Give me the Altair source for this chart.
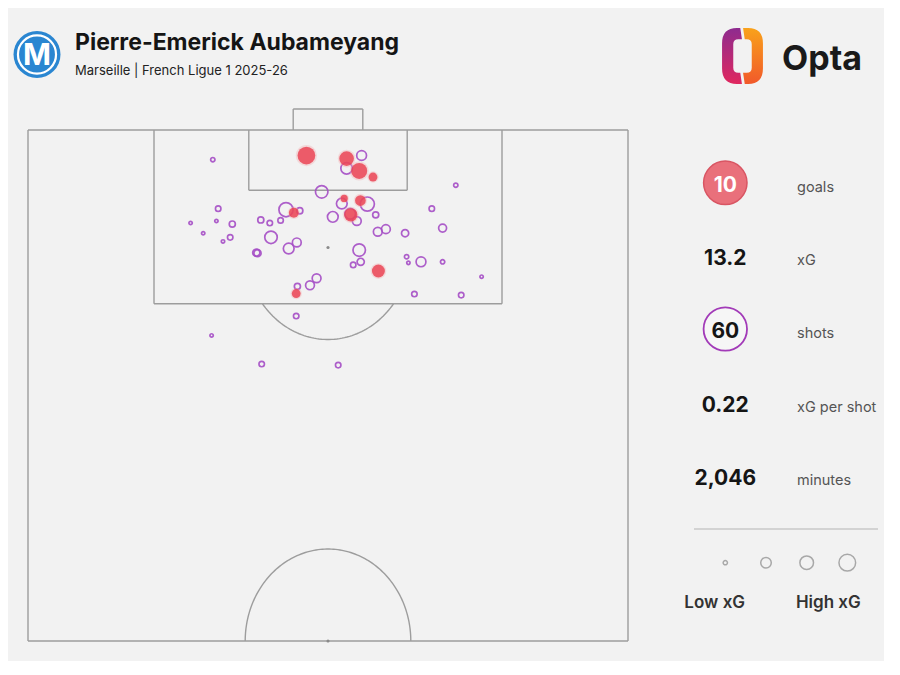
import altair as alt
import pandas as pd
import numpy as np

# ---------------- data ----------------
player = "Pierre-Emerick Aubameyang"
subtitle = "Marseille | French Ligue 1 2025-26"
stat_values = ["10", "13.2", "60", "0.22", "2,046"]
stat_labels = ["goals", "xG", "shots", "xG per shot", "minutes"]
legend_xg = [0.05, 0.3, 0.5, 0.75]
legend_labels = ["Low xG", "High xG"]

# goals (Opta-style pitch coords: x = length toward goal 50..100, y = width 0..100 as drawn left->right)
goal_y = [46.4, 53.1, 55.2, 57.5, 52.7, 55.4, 53.8, 44.3, 58.4, 44.7]
goal_x = [97.5, 97.2, 96.0, 95.4, 93.3, 93.1, 91.7, 91.9, 86.2, 84.0]
goal_xg = [0.85, 0.58, 0.69, 0.21, 0.14, 0.31, 0.48, 0.26, 0.45, 0.21]

# other shots
miss_y = [30.8, 55.6, 53.1, 48.95, 71.3, 31.7, 43.0, 45.3, 52.3, 56.55,
          50.8, 54.8, 57.95, 67.3, 27.1, 31.4, 34.05, 38.8, 40.3, 42.1,
          29.2, 32.5, 33.7, 40.5, 44.8, 43.45, 38.05, 38.25, 55.2, 55.45,
          54.2, 58.3, 59.65, 62.85, 69.1, 63.1, 63.4, 65.5, 69.1, 75.6,
          48.1, 47.0, 44.9, 64.4, 72.2, 44.7, 30.6, 38.95, 51.7, 53.7]
miss_x = [97.1, 97.5, 96.25, 93.95, 94.6, 92.3, 92.2, 92.1, 92.8, 92.75,
          91.5, 91.1, 91.7, 92.3, 90.9, 91.1, 90.8, 91.2, 90.9, 91.15,
          89.9, 89.1, 89.5, 89.5, 89.0, 88.4, 88.0, 87.95, 88.25, 87.1,
          86.8, 90.05, 90.3, 89.9, 90.4, 87.6, 87.0, 87.1, 87.1, 85.65,
          85.5, 84.8, 84.7, 83.95, 83.85, 81.8, 79.9, 77.1, 77.0, 91.8]
miss_xg = [0.05, 0.26, 0.36, 0.42, 0.05, 0.08, 0.54, 0.10, 0.31, 0.54,
           0.31, 0.21, 0.10, 0.08, 0.03, 0.03, 0.10, 0.10, 0.08, 0.08,
           0.03, 0.03, 0.08, 0.42, 0.21, 0.31, 0.14, 0.14, 0.42, 0.14,
           0.08, 0.21, 0.21, 0.14, 0.17, 0.05, 0.03, 0.26, 0.05, 0.03,
           0.21, 0.21, 0.10, 0.08, 0.08, 0.08, 0.03, 0.08, 0.08, 0.31]

# pitch markings (Opta units)
pitch_segments = [
    # outer half pitch
    (0, 50, 0, 100), (100, 50, 100, 100), (0, 100, 100, 100), (0, 50, 100, 50),
    # penalty box
    (21.0, 83.0, 79.0, 83.0), (21.0, 83.0, 21.0, 100), (79.0, 83.0, 79.0, 100),
    # six-yard box
    (36.8, 94.1, 63.2, 94.1), (36.8, 94.1, 36.8, 100), (63.2, 94.1, 63.2, 100),
    # goal
    (44.2, 102.05, 55.8, 102.05), (44.2, 100, 44.2, 102.05), (55.8, 100, 55.8, 102.05),
]
circle_rx, circle_ry = 13.8, 9.0
pen_spot = (50, 88.5)
centre_spot = (50, 50)

# ---------------- style ----------------
BG = "#f2f2f2"
LINE = "#9d9d9d"
FONT = "Inter"
GOAL_RED = "#ea3f50"
SHOT_PURPLE = "#a64fc6"

xs = alt.Scale(domain=[0, 100], nice=False, zero=False)
ys = alt.Scale(domain=[50, 100], nice=False, zero=False)
ss = alt.Scale(type="linear", domain=[0, 1], range=[0, 371])

layers = []

# pitch lines
seg_df = pd.DataFrame(pitch_segments, columns=["ya", "xa", "yb", "xb"])
layers.append(alt.Chart(seg_df).mark_rule(color=LINE, strokeWidth=1.4).encode(
    x=alt.X("ya:Q", scale=xs, axis=None), x2="yb:Q",
    y=alt.Y("xa:Q", scale=ys, axis=None), y2="xb:Q"))

# arcs (D and centre circle)
t0 = np.arccos((pen_spot[1] - 83.0) / circle_ry)
td = np.linspace(-t0, t0, 60)
tc = np.linspace(-np.pi / 2, np.pi / 2, 120)
arc_df = pd.concat([
    pd.DataFrame({"arc": "d", "i": np.arange(len(td)),
                  "y": pen_spot[0] + circle_rx * np.sin(td),
                  "x": pen_spot[1] - circle_ry * np.cos(td)}),
    pd.DataFrame({"arc": "c", "i": np.arange(len(tc)),
                  "y": centre_spot[0] + circle_rx * np.sin(tc),
                  "x": centre_spot[1] + circle_ry * np.cos(tc)}),
])
layers.append(alt.Chart(arc_df).mark_line(color=LINE, strokeWidth=1.4).encode(
    x=alt.X("y:Q", scale=xs, axis=None), y=alt.Y("x:Q", scale=ys, axis=None),
    detail="arc:N", order="i:Q"))

spots_df = pd.DataFrame({"y": [pen_spot[0], centre_spot[0]], "x": [pen_spot[1], centre_spot[1]]})
layers.append(alt.Chart(spots_df).mark_circle(color="#8a8a8a", size=10, opacity=1).encode(
    x=alt.X("y:Q", scale=xs, axis=None), y=alt.Y("x:Q", scale=ys, axis=None)))

# shots
miss_df = pd.DataFrame({"y": miss_y, "x": miss_x, "xg": miss_xg})
layers.append(alt.Chart(miss_df).mark_point(
    shape="circle", filled=False, color=SHOT_PURPLE, strokeWidth=1.7, opacity=0.9).encode(
    x=alt.X("y:Q", scale=xs, axis=None), y=alt.Y("x:Q", scale=ys, axis=None),
    size=alt.Size("xg:Q", scale=ss, legend=None)))

goal_df = pd.DataFrame({"y": goal_y, "x": goal_x, "xg": goal_xg})
layers.append(alt.Chart(goal_df).transform_calculate(h="datum.xg*1.35+0.06").mark_circle(
    color="#f4a9ad", opacity=0.35).encode(
    x=alt.X("y:Q", scale=xs, axis=None), y=alt.Y("x:Q", scale=ys, axis=None),
    size=alt.Size("h:Q", scale=ss, legend=None)))
layers.append(alt.Chart(goal_df).mark_circle(color=GOAL_RED, opacity=0.82).encode(
    x=alt.X("y:Q", scale=xs, axis=None), y=alt.Y("x:Q", scale=ys, axis=None),
    size=alt.Size("xg:Q", scale=ss, legend=None)))


def one():
    return pd.DataFrame({"a": [0]})


def txt(text, x, y, size, weight="normal", color="#222", align="left", baseline="alphabetic"):
    return alt.Chart(pd.DataFrame({"t": [text]})).mark_text(
        font=FONT, fontSize=size, fontWeight=weight, color=color, align=align, baseline=baseline
    ).encode(x=alt.value(x), y=alt.value(y), text="t:N")


# header: club badge
layers.append(alt.Chart(one()).mark_point(shape="circle", filled=True, color="#2a86d1", size=2206, opacity=1)
              .encode(x=alt.value(9), y=alt.value(-75.5)))
layers.append(alt.Chart(one()).mark_point(shape="circle", filled=False, color="white", size=1450,
                                          strokeWidth=2.2, opacity=1)
              .encode(x=alt.value(9), y=alt.value(-75.5)))
layers.append(txt("M", 9, -74, 30, "bold", "white", "center", "middle"))

layers.append(txt(player, 47, -80, 23, "bold", "#151515"))
layers.append(txt(subtitle, 47, -55, 13, "normal", "#222"))

# Opta logo
left_path = ("M -0.08 -1 L -0.2 -1 Q -0.73 -1 -0.73 -0.45 L -0.73 0.45 Q -0.73 1 -0.2 1 "
             "L -0.02 1 L -0.08 0.6 L -0.15 0.6 Q -0.33 0.6 -0.33 0.42 L -0.33 -0.42 "
             "Q -0.33 -0.6 -0.15 -0.6 L -0.02 -0.6 Z")
right_path = ("M 0.08 1 L 0.2 1 Q 0.73 1 0.73 0.45 L 0.73 -0.45 Q 0.73 -1 0.2 -1 "
              "L 0.02 -1 L 0.08 -0.6 L 0.15 -0.6 Q 0.33 -0.6 0.33 -0.42 L 0.33 0.42 "
              "Q 0.33 0.6 0.15 0.6 L 0.02 0.6 Z")
grad_l = alt.LinearGradient(gradient="linear", x1=0, x2=0, y1=0, y2=1,
                            stops=[alt.GradientStop(color="#8e2b8f", offset=0),
                                   alt.GradientStop(color="#e0285f", offset=1)])
grad_r = alt.LinearGradient(gradient="linear", x1=0, x2=0, y1=0, y2=1,
                            stops=[alt.GradientStop(color="#f9a21b", offset=0),
                                   alt.GradientStop(color="#f1592a", offset=1)])
for path, grad in [(left_path, grad_l), (right_path, grad_r)]:
    layers.append(alt.Chart(one()).mark_point(shape=path, filled=True, fill=grad, size=3136,
                                              strokeWidth=0, opacity=1)
                  .encode(x=alt.value(714.5), y=alt.value(-74)))
layers.append(txt("Opta", 754, -60, 34, "bold", "#1a1a1a"))

# stats panel
row_y = [61.7, 135, 208.3, 281.7, 355]
layers.append(alt.Chart(one()).mark_point(shape="circle", filled=True, fill="#e9707b", stroke="#d95563",
                                          strokeWidth=1.5, size=1886, opacity=1)
              .encode(x=alt.value(697.3), y=alt.value(52.8)))
layers.append(alt.Chart(one()).mark_point(shape="circle", filled=True, fill="#f6f6f6", stroke="#a23ab8",
                                          strokeWidth=1.8, size=1886, opacity=1)
              .encode(x=alt.value(697.3), y=alt.value(199)))
for i, (v, lab) in enumerate(zip(stat_values, stat_labels)):
    col = "white" if i == 0 else "#151515"
    layers.append(txt(v, 697.3, row_y[i], 21, "bold", col, "center"))
    layers.append(txt(lab, 769, row_y[i], 14.5, "normal", "#555555"))

layers.append(alt.Chart(one()).mark_rule(color="#c8c8c8", strokeWidth=1.3).encode(
    x=alt.value(666), x2=alt.value(850), y=alt.value(399)))

leg_x = [697.3, 738, 778.7, 819.3]
for i, v in enumerate(legend_xg):
    layers.append(alt.Chart(pd.DataFrame({"xg": [v]})).mark_point(
        shape="circle", filled=False, color="#a8a8a8", strokeWidth=1.5, opacity=1).encode(
        x=alt.value(leg_x[i]), y=alt.value(432.7),
        size=alt.Size("xg:Q", scale=ss, legend=None)))
layers.append(txt(legend_labels[0], 686.7, 478.3, 17, 600, "#333333", "center"))
layers.append(txt(legend_labels[1], 800.3, 478.3, 17, 600, "#333333", "center"))

chart = alt.layer(*layers).properties(
    width=600, height=511,
    padding={"left": 20, "top": 122, "right": 256, "bottom": 20},
    autosize=alt.AutoSizeParams(type="none"),
    background=BG,
).configure_view(stroke=None)

chart.save("out.html", embed_options={"renderer": "svg", "actions": False})
